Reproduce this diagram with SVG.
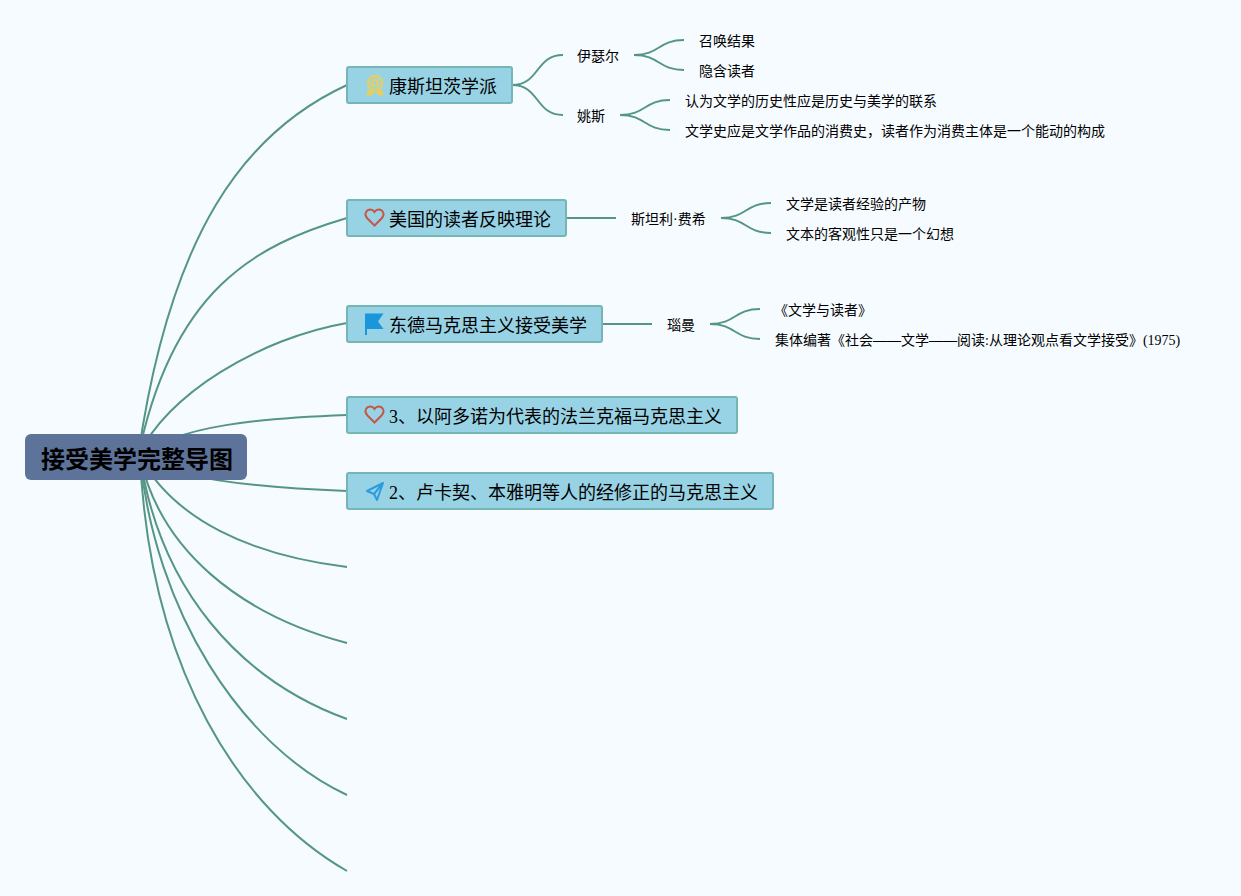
<svg xmlns="http://www.w3.org/2000/svg" width="1241" height="896" viewBox="0 0 1241 896">
<style>
text{font-family:"Liberation Serif","Noto Sans CJK SC",sans-serif;fill:#000}
.t1{font-size:18px}.t2{font-size:14px}
.root{font-size:24px;font-weight:bold}
.n1{fill:#98d3e5;stroke:#76b5b5;stroke-width:2}
.c{fill:none;stroke:#559587;stroke-width:2}
.heart{fill:none;stroke:#c5564a;stroke-width:2}
</style>
<rect width="1241" height="896" fill="#f6fbff"/>
<g id="connectors">
<path class="c" d="M138 457C170 232 245 132 347 85"/>
<path class="c" d="M138 457C172 290 255 245 347 218"/>
<path class="c" d="M138 457C165 395 260 338 347 323"/>
<path class="c" d="M140 457C175 425 265 418 347 415"/>
<path class="c" d="M140 457C175 480 265 488 347 491"/>
<path class="c" d="M140 457C175 520 250 555 347 567"/>
<path class="c" d="M140 457C160 550 240 615 347 643"/>
<path class="c" d="M140 457C160 590 240 680 347 719"/>
<path class="c" d="M140 457C155 610 240 745 347 795"/>
<path class="c" d="M140 457C150 670 240 810 347 871"/>
<path class="c" d="M512 85C540 85 535 55 563 55"/>
<path class="c" d="M512 85C540 85 535 115 563 115"/>
<path class="c" d="M634 55C660 55 658 40 684 40"/>
<path class="c" d="M634 55C660 55 658 70 684 70"/>
<path class="c" d="M620 115C646 115 644 100 670 100"/>
<path class="c" d="M620 115C646 115 644 130 670 130"/>
<path class="c" d="M566 218H616"/>
<path class="c" d="M721 218C747 218 745 203 771 203"/>
<path class="c" d="M721 218C747 218 745 233 771 233"/>
<path class="c" d="M602 324H652"/>
<path class="c" d="M710 324C736 324 734 309 760 309"/>
<path class="c" d="M710 324C736 324 734 339 760 339"/>
</g>
<g id="root"><rect x="25" y="434" width="222" height="46" rx="6" fill="#5d7399"/><text class="root" x="41" y="468">接受美学完整导图</text></g>
<g id="n1"><rect class="n1" x="347" y="67" width="165" height="36" rx="2"/>
<g fill="none" stroke="#e3cf68" stroke-width="2.500"><circle cx="375" cy="83" r="7"/><circle cx="375" cy="83" r="3"/></g>
<path d="M368 89L366 95L371 96L375 92L379 96L384 95L382 89L375 92Z" fill="#e3cf68"/>
<text class="t1" x="389" y="93">康斯坦茨学派</text></g>
<g id="n2"><rect class="n1" x="347" y="200" width="219" height="36" rx="2"/>
<path class="heart" d="M374.500 225.500L367.500 218.500C363 213.500 367 209.500 370.500 209.500C372.500 209.500 373.500 210.500 374.500 212C375.500 210.500 376.500 209.500 378.500 209.500C382 209.500 386 213.500 381.500 218.500Z"/>
<text class="t1" x="389" y="226">美国的读者反映理论</text></g>
<g id="n3"><rect class="n1" x="347" y="306" width="255" height="36" rx="2"/>
<path d="M365 313.500H383.500L378 321.500L383.500 329H367V335H365Z" fill="#1a96dc"/>
<text class="t1" x="389" y="332">东德马克思主义接受美学</text></g>
<g id="n4"><rect class="n1" x="347" y="397" width="390" height="36" rx="2"/>
<path class="heart" d="M374.500 422.500L367.500 415.500C363 410.500 367 406.500 370.500 406.500C372.500 406.500 373.500 407.500 374.500 409C375.500 407.500 376.500 406.500 378.500 406.500C382 406.500 386 410.500 381.500 415.500Z"/>
<text class="t1" x="389" y="423">3、以阿多诺为代表的法兰克福马克思主义</text></g>
<g id="n5"><rect class="n1" x="347" y="473" width="426" height="36" rx="2"/>
<path d="M383 483L367 491L374 494L377 500L383 483ZM383 483L374 494" fill="none" stroke="#2a9ce0" stroke-width="2" stroke-linejoin="round"/>
<text class="t1" x="389" y="499">2、卢卡契、本雅明等人的经修正的马克思主义</text></g>
<g id="n11"><text class="t2" x="577" y="61">伊瑟尔</text></g>
<g id="n12"><text class="t2" x="577" y="121">姚斯</text></g>
<g id="n111"><text class="t2" x="699" y="46">召唤结果</text></g>
<g id="n112"><text class="t2" x="699" y="76">隐含读者</text></g>
<g id="n121"><text class="t2" x="685" y="106">认为文学的历史性应是历史与美学的联系</text></g>
<g id="n122"><text class="t2" x="685" y="136">文学史应是文学作品的消费史，读者作为消费主体是一个能动的构成</text></g>
<g id="n21"><text class="t2" x="631" y="224">斯坦利·费希</text></g>
<g id="n211"><text class="t2" x="786" y="209">文学是读者经验的产物</text></g>
<g id="n212"><text class="t2" x="786" y="239">文本的客观性只是一个幻想</text></g>
<g id="n31"><text class="t2" x="667" y="330">瑙曼</text></g>
<g id="n311"><text class="t2" x="774" y="315">《文学与读者》</text></g>
<g id="n312"><text class="t2" x="775" y="345">集体编著《社会<tspan font-weight="bold">——</tspan>文学<tspan font-weight="bold">——</tspan>阅读:从理论观点看文学接受》(1975)</text></g>
</svg>
